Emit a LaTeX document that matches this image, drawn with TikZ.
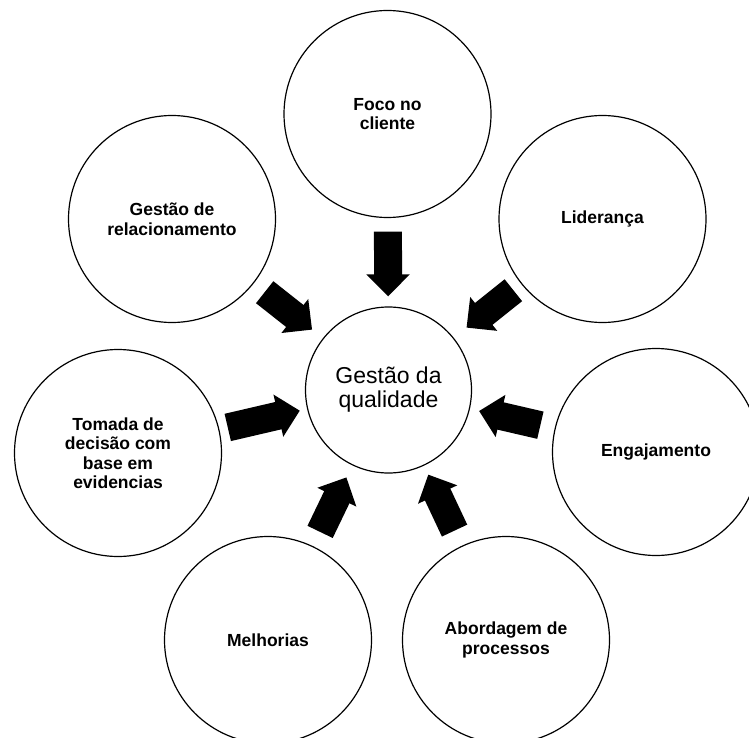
\documentclass[tikz,border=0pt]{standalone}
\usepackage{fontspec}
\setmainfont{Liberation Sans}
\usetikzlibrary{arrows.meta}
\begin{document}
\begin{tikzpicture}[x=1pt,y=-1pt,
    principio/.style={circle,draw=black,line width=1.2pt,minimum size=207pt,inner sep=0pt,align=center,
        font=\fontsize{17.5}{19.5}\selectfont\bfseries},
    seta/.style={line width=28pt,-{Triangle[length=22pt,width=42pt]}}]
            \useasboundingbox (0,0) rectangle (749,738);
            % Centro
            \node[circle,draw=black,line width=1.2pt,minimum size=166pt,inner sep=0pt,align=center,
                font=\fontsize{23}{24}\selectfont] (qualidade) at (388.5,390) {Gestão da\\qualidade};
            % Principios
            \node[principio] (foco) at (387.5,114) {Foco no\\cliente};
            \node[principio] (lideranca) at (602.5,219) {Liderança};
            \node[principio] (relacionamento) at (172,219) {Gestão de\\relacionamento};
            \node[principio] (decisao) at (118,453) {Tomada de\\decisão com\\base em\\evidencias};
            \node[principio] (engajamento) at (656,452) {Engajamento};
            \node[principio] (processos) at (506,640) {Abordagem de\\processos};
            \node[principio] (melhorias) at (268,640) {Melhorias};
            % Setas
            \draw[seta,shorten <=13.5pt,shorten >=10pt] (foco) -- (qualidade);
            \draw[seta,shorten <=10pt,shorten >=16.3pt] (lideranca) -- (qualidade);
            \draw[seta,shorten <=14pt,shorten >=13.8pt] (relacionamento) -- (qualidade);
            \draw[seta,shorten <=8.6pt,shorten >=7.5pt] (decisao) -- (qualidade);
            \draw[seta,shorten <=14.6pt,shorten >=9.4pt] (engajamento) -- (qualidade);
            \draw[seta,shorten <=16.8pt,shorten >=9.9pt] (processos) -- (qualidade);
            \draw[seta,shorten <=15.9pt,shorten >=13.4pt] (melhorias) -- (qualidade);
\end{tikzpicture}
\end{document}
